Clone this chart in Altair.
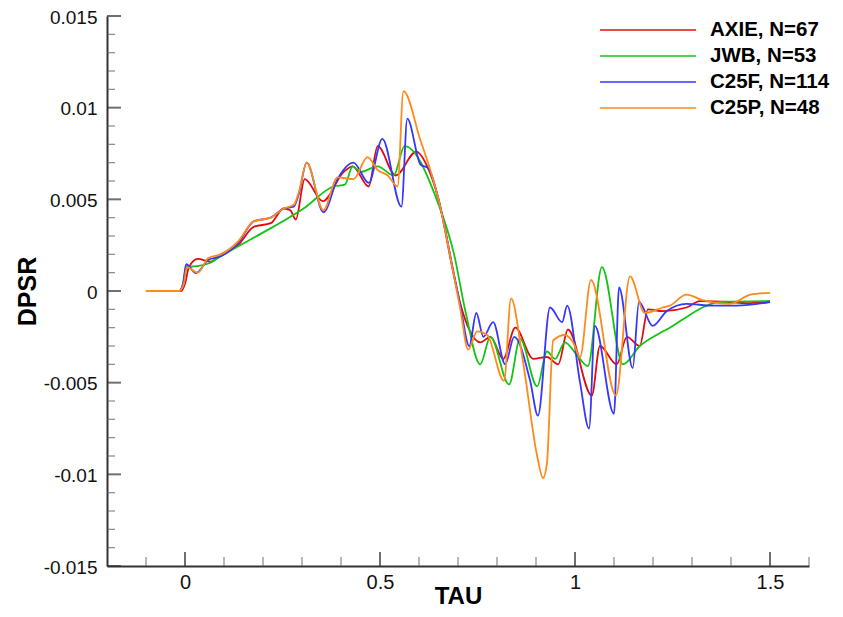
import altair as alt
import pandas as pd

SERIES = ["AXIE, N=67", "JWB, N=53", "C25F, N=114", "C25P, N=48"]
COLORS = ["#e00c0c", "#14c414", "#3636ff", "#ff8a1c"]

X_MAJOR = [0, 0.5, 1, 1.5]
X_MINOR = [-0.1, 0.1, 0.2, 0.3, 0.4, 0.6, 0.7, 0.8, 0.9, 1.1, 1.2, 1.3, 1.4, 1.6]
Y_MAJOR = [-0.015, -0.01, -0.005, 0, 0.005, 0.01, 0.015]
Y_MINOR = [-0.014, -0.013, -0.012, -0.011, -0.009, -0.008, -0.007, -0.006,
           -0.004, -0.003, -0.002, -0.001, 0.001, 0.002, 0.003, 0.004,
           0.006, 0.007, 0.008, 0.009, 0.011, 0.012, 0.013, 0.014]

axie_tau = [-0.1, -0.01, 0.0, 0.01, 0.033, 0.066, 0.092, 0.136, 0.176, 0.22, 0.253, 0.27,
            0.284, 0.307, 0.353, 0.407, 0.43, 0.471, 0.494, 0.54, 0.593, 0.621, 0.65, 0.688,
            0.706, 0.731, 0.757, 0.783, 0.816, 0.847, 0.893, 0.928, 0.957, 0.982, 1.043,
            1.064, 1.107, 1.133, 1.166, 1.187, 1.225, 1.286, 1.32, 1.396, 1.44, 1.5]
axie_dpsr = [0, 0, 0.0004, 0.0013, 0.00175, 0.0016, 0.0020, 0.0025, 0.0035, 0.0037, 0.0045, 0.0044,
             0.0039, 0.0061, 0.0049, 0.0065, 0.0068, 0.0057, 0.0079, 0.0063, 0.0076, 0.0068, 0.005, 0.001,
             -0.0007, -0.0022, -0.0028, -0.0025, -0.0037, -0.0020, -0.0037, -0.0036, -0.0040, -0.0021, -0.0057,
             -0.0030, -0.0040, -0.0025, -0.0030, -0.0010, -0.0011, -0.0009, -0.00055, -0.0006, -0.00066, -0.00055]

jwb_tau = [-0.1, -0.015, -0.005, 0.003, 0.03, 0.06, 0.092, 0.176, 0.304, 0.381, 0.41, 0.43, 0.45,
           0.494, 0.535, 0.563, 0.647, 0.69, 0.72, 0.757, 0.783, 0.831, 0.859, 0.903, 0.928, 0.949,
           0.974, 1.005, 1.033, 1.069, 1.123, 1.166, 1.217, 1.243, 1.28, 1.327, 1.37, 1.5]
jwb_dpsr = [0, 0, 0.0004, 0.0013, 0.00136, 0.0015, 0.0019, 0.0029, 0.0045, 0.0057, 0.0058, 0.0068, 0.0065,
            0.0068, 0.0063, 0.0079, 0.0049, 0.0020, -0.0012, -0.0040, -0.0025, -0.0051, -0.0026, -0.0052, -0.0033, -0.0037,
            -0.0028, -0.0035, -0.0041, 0.0013, -0.0040, -0.0030, -0.0023, -0.0020, -0.0015, -0.0009, -0.0006, -0.00055]

c25f_tau = [-0.1, -0.015, -0.005, 0.003, 0.028, 0.06, 0.092, 0.136, 0.176, 0.22, 0.253, 0.279, 0.292,
            0.312, 0.355, 0.391, 0.432, 0.471, 0.506, 0.555, 0.57, 0.604, 0.624, 0.65, 0.688, 0.706,
            0.729, 0.747, 0.765, 0.79, 0.821, 0.844, 0.885, 0.905, 0.936, 0.967, 0.98, 1.013, 1.036,
            1.051, 1.1, 1.113, 1.148, 1.164, 1.199, 1.235, 1.286, 1.353, 1.414, 1.5]
c25f_dpsr = [0, 0, 0.0004, 0.00146, 0.00098, 0.0017, 0.0019, 0.0026, 0.0038, 0.0040, 0.0045, 0.0046, 0.0053,
             0.0070, 0.0043, 0.0061, 0.0070, 0.0059, 0.0083, 0.0046, 0.0094, 0.0069, 0.0067, 0.005, 0.0011, -0.0008,
             -0.0030, -0.0012, -0.0025, -0.0017, -0.0040, -0.0025, -0.0049, -0.0068, -0.0009, -0.0017, -0.0008, -0.0050, -0.0075,
             -0.0019, -0.0067, 0.0002, -0.0042, -0.0006, -0.0019, -0.0011, -0.0007, -0.0008, -0.0008, -0.0006]

c25p_tau = [-0.1, -0.015, -0.003, 0.005, 0.033, 0.06, 0.092, 0.136, 0.176, 0.22, 0.253, 0.279, 0.292,
            0.312, 0.355, 0.391, 0.432, 0.468, 0.494, 0.52, 0.545, 0.56, 0.604, 0.629, 0.65, 0.688,
            0.706, 0.726, 0.749, 0.775, 0.818, 0.836, 0.867, 0.903, 0.918, 0.928, 0.944, 0.974, 0.995,
            1.013, 1.041, 1.105, 1.141, 1.179, 1.225, 1.243, 1.286, 1.327, 1.396, 1.45, 1.5]
c25p_dpsr = [0, 0, 0.0004, 0.0013, 0.0010, 0.0018, 0.0020, 0.0027, 0.0038, 0.0040, 0.0045, 0.0047, 0.0054,
             0.0070, 0.0044, 0.0062, 0.0061, 0.0073, 0.0066, 0.0063, 0.0057, 0.0109, 0.0082, 0.0066, 0.005, 0.0010,
             -0.0010, -0.0032, -0.0022, -0.0024, -0.0049, -0.0004, -0.0039, -0.0090, -0.0102, -0.0094, -0.0027, -0.0024, -0.0028,
             -0.0036, 0.0006, -0.0057, 0.0008, -0.0012, -0.0009, -0.0008, -0.0002, -0.0005, -0.0007, -0.0002, -0.0001]

FONT = "Liberation Sans"

x_scale = alt.Scale(domain=[-0.2, 1.6], nice=False, zero=False)
y_scale = alt.Scale(domain=[-0.015, 0.015], nice=False, zero=False)
color_scale = alt.Scale(domain=SERIES, range=COLORS)

x_axis = alt.Axis(values=X_MAJOR, labelExpr="'' + datum.value", ticks=False, grid=False,
                  domainColor="#333333", domainWidth=2, labelFont=FONT, labelFontSize=20,
                  labelColor="#111111", labelPadding=6, labelFlush=False,
                  title="TAU", titleFont=FONT, titleFontSize=24, titleFontWeight="bold",
                  titleColor="#000000", titleY=30, titleBaseline="middle")
y_axis = alt.Axis(values=Y_MAJOR, labelExpr="'' + datum.value", ticks=False, grid=False,
                  domainColor="#333333", domainWidth=2, labelFont=FONT, labelFontSize=19,
                  labelColor="#111111", labelPadding=10, labelFlush=False, labelOffset=1,
                  title="DPSR", titleFont=FONT, titleFontSize=25, titleFontWeight="bold",
                  titleColor="#000000", titleX=-80, titleY=275, titleBaseline="middle")

legend = alt.Legend(title=None, orient="none", legendX=492, legendY=2, symbolType="stroke",
                    symbolSize=9216, symbolStrokeWidth=1.5, clipHeight=24, rowPadding=2,
                    labelFont=FONT, labelFontSize=20.5, labelFontWeight="bold", labelColor="#000000",
                    labelOffset=13, padding=0)

def ticks_x(values, size, thick, color):
    return alt.Chart(pd.DataFrame({"TAU": values})).mark_tick(
        orient="vertical", size=size, thickness=thick, color=color
    ).encode(x=alt.X("TAU:Q", scale=x_scale, axis=x_axis), y=alt.value(550 - size / 2))

def ticks_y(values, size, thick, color):
    return alt.Chart(pd.DataFrame({"DPSR": values})).mark_tick(
        orient="horizontal", size=size, thickness=thick, color=color
    ).encode(y=alt.Y("DPSR:Q", scale=y_scale, axis=y_axis), x=alt.value(size / 2))

def series_line(name, taus, vals):
    df = pd.DataFrame({"TAU": taus, "DPSR": vals, "series": name})
    return alt.Chart(df).mark_line(interpolate="monotone", strokeWidth=1.8).encode(
        x=alt.X("TAU:Q", scale=x_scale, axis=x_axis),
        y=alt.Y("DPSR:Q", scale=y_scale, axis=y_axis),
        color=alt.Color("series:N", scale=color_scale, legend=legend),
    )

layers = [
    ticks_x(X_MINOR, 9, 1.2, "#555555"),
    ticks_x(X_MAJOR, 14, 2, "#333333"),
    ticks_y(Y_MINOR, 8, 1.2, "#555555"),
    ticks_y(Y_MAJOR, 14, 2, "#333333"),
    series_line(SERIES[0], axie_tau, axie_dpsr),
    series_line(SERIES[1], jwb_tau, jwb_dpsr),
    series_line(SERIES[2], c25f_tau, c25f_dpsr),
    series_line(SERIES[3], c25p_tau, c25p_dpsr),
]

chart = alt.layer(*layers).properties(
    width=702, height=550,
    padding={"left": 99, "top": 8, "right": 26, "bottom": 43},
    autosize=alt.AutoSizeParams(type="none"),
).configure_view(stroke=None)

chart.save("out.html", embed_options={"renderer": "svg", "actions": False})
